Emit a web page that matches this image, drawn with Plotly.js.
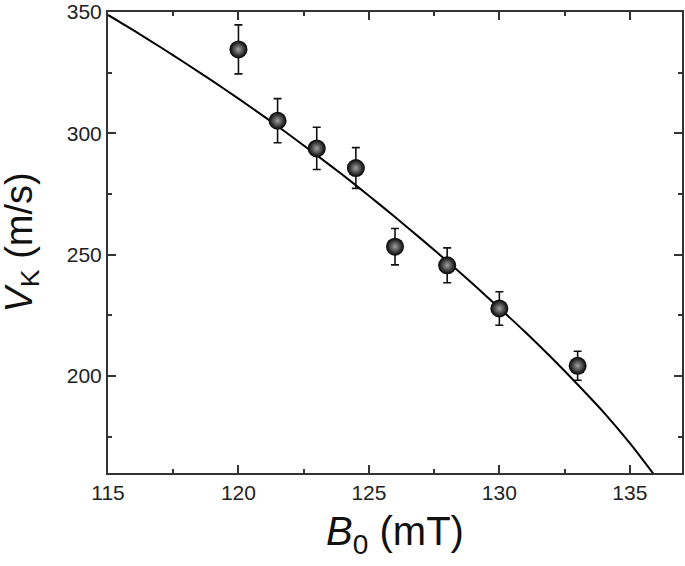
<!DOCTYPE html>
<html>
<head>
<meta charset="utf-8">
<script src="https://cdn.plot.ly/plotly-3.0.1.min.js"></script>
<style>html,body{margin:0;padding:0;background:#fff;}#chart{width:685px;height:566px;}</style>
</head>
<body>
<div id="chart"></div>
<script>
// Measured data points
const fieldB0 = [120, 121.5, 123, 124.5, 126, 128, 130, 133];
const velocityVK = [334.6, 305.2, 293.8, 285.7, 253.3, 245.6, 227.8, 204.2];
const velocityErr = [10.1, 9.1, 8.7, 8.4, 7.5, 7.2, 6.9, 6.0];

// Fit curve
const fitB0 = [115, 116, 117, 118, 119, 120, 121, 122, 123, 124, 125, 126, 127, 128, 129, 130, 131, 132, 133, 134, 135, 136];
const fitVK = [348.8, 342.3, 335.6, 328.7, 321.6, 314.3, 306.8, 299.0, 291.0, 282.8, 274.3, 265.5, 256.5, 247.3, 237.8, 228.0, 218.0, 207.5, 196.5, 185.0, 172.3, 158.3];

const xTicks = [115, 120, 125, 130, 135];
const yTicks = [200, 250, 300, 350];

const font = "Liberation Sans, Arial, Helvetica, sans-serif";

const traces = [
  {
    x: fitB0, y: fitVK, type: 'scatter', mode: 'lines',
    line: {color: '#000', width: 2, shape: 'spline', smoothing: 0.8},
    hoverinfo: 'skip', showlegend: false
  },
  {
    x: fieldB0, y: velocityVK, type: 'scatter', mode: 'markers',
    error_y: {type: 'data', array: velocityErr, visible: true, color: '#111', thickness: 1.6, width: 4},
    marker: {size: 18, color: '#000', gradient: {type: 'radial', color: '#a0a0a0'}, line: {width: 0}},
    showlegend: false
  }
];

const axisCommon = {
  showline: true, linecolor: '#333', linewidth: 2, mirror: 'allticks',
  ticks: 'inside', ticklen: 8, tickwidth: 2, tickcolor: '#333',
  showgrid: false, zeroline: false,
  tickfont: {family: font, size: 21, color: '#222'},
  minor: {ticks: 'inside', ticklen: 4, tickwidth: 2, tickcolor: '#333', showgrid: false}
};

const layout = {
  width: 685, height: 566,
  margin: {l: 108, r: 3, t: 12, b: 93},
  paper_bgcolor: '#fff', plot_bgcolor: '#fff',
  showlegend: false,
  xaxis: Object.assign({}, axisCommon, {
    range: [115, 137], tickvals: xTicks, ticktext: xTicks.map(String),
    minor: Object.assign({}, axisCommon.minor, {dtick: 2.5, tick0: 115}),
    title: {text: '<i>B</i><sub>0</sub> (mT)', font: {family: font, size: 40, color: '#111'}, standoff: 14}
  }),
  yaxis: Object.assign({}, axisCommon, {
    range: [160, 350.02], tickvals: yTicks, ticktext: yTicks.map(String),
    minor: Object.assign({}, axisCommon.minor, {dtick: 25, tick0: 150})
  }),
  annotations: [{
    text: '<i>V</i><sub>K</sub> (m/s)', textangle: -90, showarrow: false, borderpad: 0,
    xref: 'paper', yref: 'paper', x: 0, y: 0.5, xanchor: 'right', yanchor: 'middle', xshift: -62,
    font: {family: font, size: 38, color: '#111'}
  }]
};

Plotly.newPlot('chart', traces, layout, {staticPlot: true, displayModeBar: false});
</script>
</body>
</html>
